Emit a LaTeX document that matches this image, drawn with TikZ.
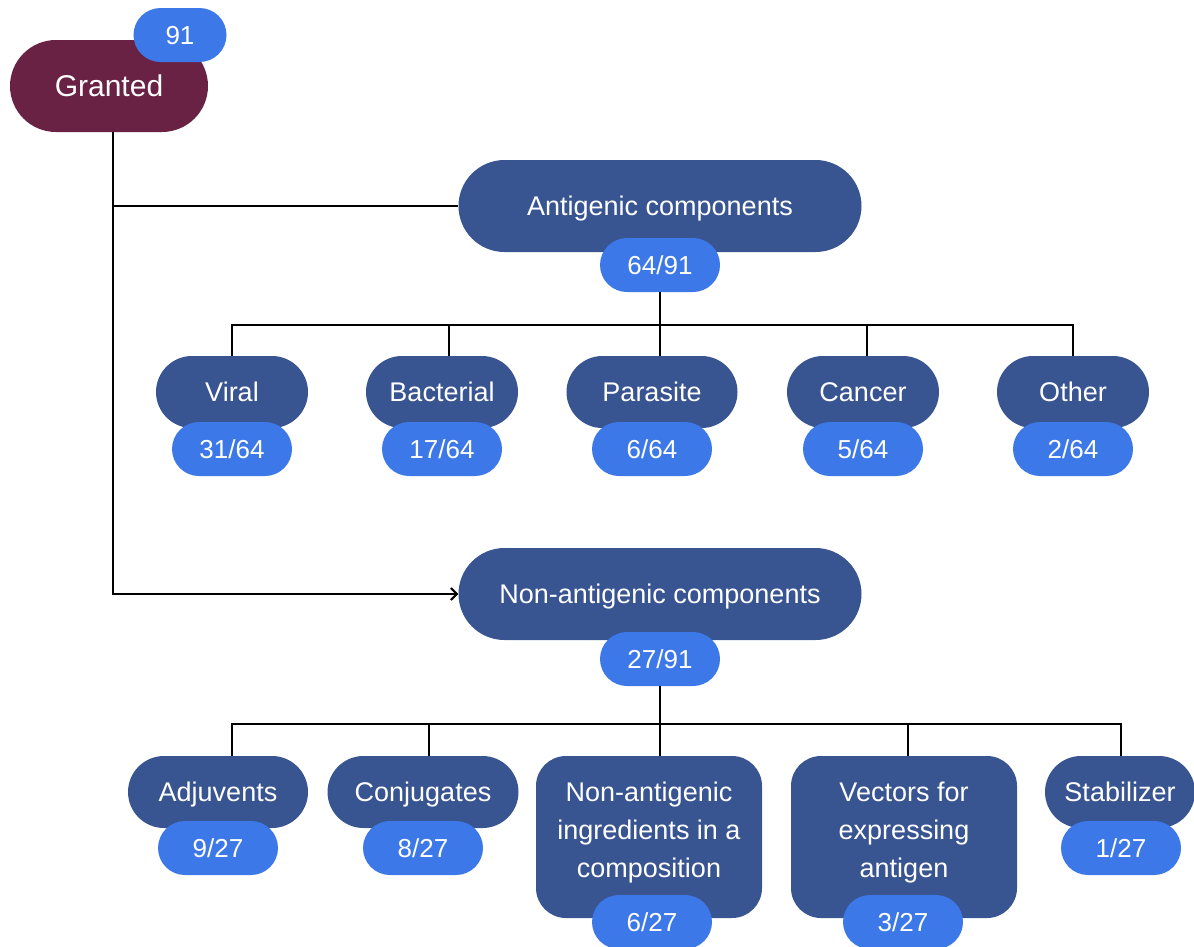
\documentclass[tikz,border=0pt]{standalone}
\usepackage{fontspec}
\setmainfont{Liberation Sans}
\usetikzlibrary{arrows.meta,shapes.misc}
\definecolor{wine}{HTML}{6A2244}
\definecolor{navy}{HTML}{385491}
\definecolor{azure}{HTML}{3D78E8}
\tikzset{
  pill/.style={rounded rectangle, fill=navy, text=white, inner sep=0pt,
    minimum height=72pt, minimum width=152pt, text height=19.4pt, text depth=0pt,
    font=\fontsize{27}{32}\selectfont},
  bigpill/.style={pill, minimum height=92pt, minimum width=403pt},
  tallbox/.style={rectangle, rounded corners=30pt, fill=navy, text=white,
    minimum width=226pt, minimum height=162pt, inner sep=0pt, align=center,
    text depth=14pt, font=\fontsize{27}{38}\selectfont},
  badge/.style={rounded rectangle, fill=azure, text=white, inner sep=0pt,
    minimum height=54pt, minimum width=120pt, text height=18.7pt, text depth=0pt,
    font=\fontsize{26}{30}\selectfont},
  link/.style={line width=2pt, black},
}
\begin{document}
\begin{tikzpicture}[x=1pt,y=-1pt]
\useasboundingbox (0,0) rectangle (1194,946);

% root
\node[pill, fill=wine, minimum width=198pt, minimum height=92pt,
  text height=21.6pt, font=\fontsize{30}{34}\selectfont] (gr) at (109,86) {Granted};
\node[badge, minimum width=93pt] (grn) at (180,35) {91};

% first level
\node[bigpill] (ant) at (660,206) {Antigenic components};
\node[badge] (antn) at (660,265) {64/91};
\node[bigpill] (non) at (660,594) {Non-antigenic components};
\node[badge] (nonn) at (660,659) {27/91};

% antigenic children
\node[pill] (vir) at (232,392) {Viral};
\node[pill] (bac) at (442,392) {Bacterial};
\node[pill, minimum width=171pt] (par) at (652,392) {Parasite};
\node[pill] (can) at (863,392) {Cancer};
\node[pill] (oth) at (1073,392) {Other};
\node[badge] (virn) at (232,449) {31/64};
\node[badge] (bacn) at (442,449) {17/64};
\node[badge] (parn) at (652,449) {6/64};
\node[badge] (cann) at (863,449) {5/64};
\node[badge] (othn) at (1073,449) {2/64};

% non-antigenic children
\node[pill, minimum width=180pt] (adj) at (218,792) {Adjuvents};
\node[pill, minimum width=191pt] (con) at (423,792) {Conjugates};
\node[tallbox] (ing) at (649,837) {Non-antigenic\\ingredients in a\\composition};
\node[tallbox] (vec) at (904,837) {Vectors for\\expressing\\antigen};
\node[pill, minimum width=150pt] (sta) at (1120,792) {Stabilizer};
\node[badge] (adjn) at (218,848) {9/27};
\node[badge] (conn) at (423,848) {8/27};
\node[badge] (ingn) at (652,922) {6/27};
\node[badge] (vecn) at (903,922) {3/27};
\node[badge] (stan) at (1121,848) {1/27};

% trunk from the root
\draw[link] ([xshift=4pt]gr.south) |- (ant.west);
\draw[link, -{Straight Barb[length=6pt,width=12pt]}] ([xshift=4pt]gr.south) |- (non.west);

% bus under the antigenic count
\coordinate (busa) at (660,325);
\draw[link] (antn.south) -- (busa);
\draw[link] (vir.north) |- (busa);
\draw[link] ([xshift=7pt]bac.north) |- (busa);
\draw[link] ([xshift=8pt]par.north) -- ([xshift=8pt]par.north |- busa);
\draw[link] ([xshift=4pt]can.north) |- (busa);
\draw[link] (oth.north) |- (busa);

% bus under the non-antigenic count
\coordinate (busn) at (660,724);
\draw[link] (nonn.south) -- (busn);
\draw[link] ([xshift=14pt]adj.north) |- (busn);
\draw[link] ([xshift=6pt]con.north) |- (busn);
\draw[link] ([xshift=11pt]ing.north) -- ([xshift=11pt]ing.north |- busn);
\draw[link] ([xshift=4pt]vec.north) |- (busn);
\draw[link] ([xshift=1pt]sta.north) |- (busn);
\end{tikzpicture}
\end{document}
